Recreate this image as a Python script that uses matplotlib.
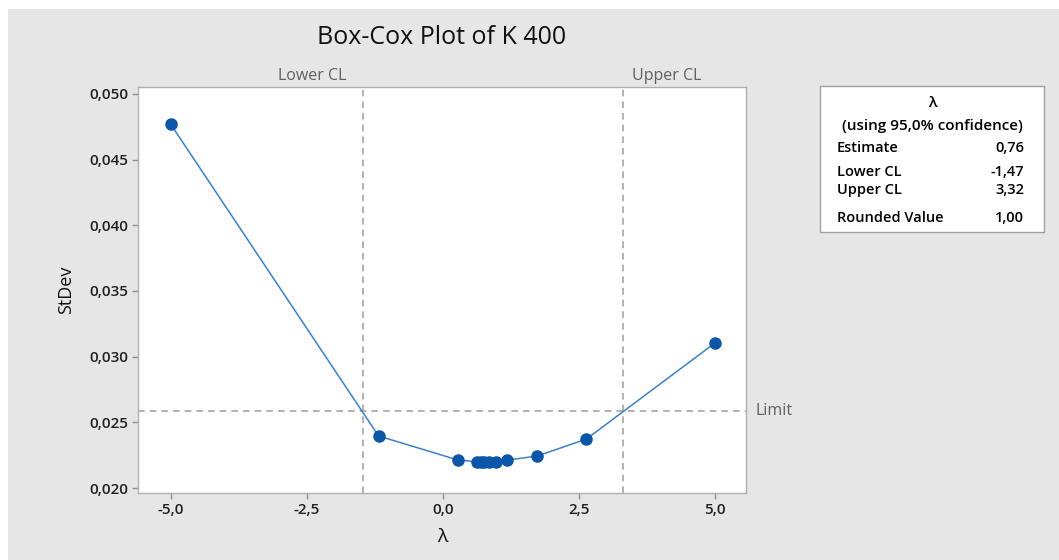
import matplotlib
matplotlib.use("Agg")
import matplotlib.pyplot as plt
from matplotlib.patches import Rectangle
from matplotlib.ticker import FuncFormatter

plt.rcParams['font.family'] = ['Open Sans', 'DejaVu Sans']

# data (golden-section search points of Box-Cox)
lambdas = [-5.0, -1.18, 0.28, 0.62, 0.70, 0.76, 0.84, 0.97, 1.18, 1.74, 2.64, 5.0]
stdev = [0.0477, 0.02396, 0.02213, 0.02200, 0.02198, 0.02197, 0.02198, 0.02201, 0.02212, 0.02244, 0.02373, 0.03104]
lower_cl = -1.47
upper_cl = 3.32
limit = 0.02585
xticks = [-5.0, -2.5, 0.0, 2.5, 5.0]
yticks = [0.020, 0.025, 0.030, 0.035, 0.040, 0.045, 0.050]
table_rows = [("Estimate", "0,76"), ("Lower CL", "-1,47"), ("Upper CL", "3,32"), ("Rounded Value", "1,00")]

W, H = 1059, 560
fig = plt.figure(figsize=(W / 100, H / 100), dpi=100, facecolor='white')
fig.patches.append(Rectangle((8 / W, 0), 1 - 8 / W, 1 - 9 / H, transform=fig.transFigure,
                             facecolor='#e6e6e6', edgecolor='none', zorder=-10))

ax = fig.add_axes([138 / W, 1 - 493 / H, (746.5 - 138) / W, (493 - 87) / H])
ax.set_facecolor('white')
ax.set_xlim(-5.6, 5.58)
ax.set_ylim(0.01962, 0.05053)

dash_col = '#a6a6a6'
ax.axvline(lower_cl, color=dash_col, ls=(0, (4, 3)), lw=1.2, zorder=1)
ax.axvline(upper_cl, color=dash_col, ls=(0, (4, 3)), lw=1.2, zorder=1)
ax.axhline(limit, color=dash_col, ls=(0, (4, 3)), lw=1.2, zorder=1)

ax.plot(lambdas, stdev, color='#3d7fcc', lw=1.1, zorder=2)
ax.plot(lambdas, stdev, ls='none', marker='o', ms=8, color='#0a56a8',
        markeredgecolor='#0a56a8', zorder=3)

ax.set_xticks(xticks)
ax.set_yticks(yticks)
ax.xaxis.set_major_formatter(FuncFormatter(lambda v, p: f"{v:.1f}".replace('.', ',')))
ax.yaxis.set_major_formatter(FuncFormatter(lambda v, p: f"{v:.3f}".replace('.', ',')))
ax.tick_params(axis='both', labelsize=11, color='#909090', length=4, width=1, labelcolor='#222222', pad=3)
for lab in ax.get_xticklabels() + ax.get_yticklabels():
    lab.set_fontweight('semibold')
for s in ax.spines.values():
    s.set_color('#b0b0b0')
    s.set_linewidth(1.0)

ax.set_xlabel('λ', fontsize=14, labelpad=8, color='#111111')
ax.set_ylabel('StDev', fontsize=13, labelpad=10, color='#111111')

ax.text(lower_cl - 0.3, 1.008, 'Lower CL', transform=ax.get_xaxis_transform(), ha='right', va='bottom',
        fontsize=11.5, color='#606060')
ax.text(upper_cl + 0.15, 1.008, 'Upper CL', transform=ax.get_xaxis_transform(), ha='left', va='bottom',
        fontsize=11.5, color='#606060')
ax.text(1.015, limit, 'Limit', transform=ax.get_yaxis_transform(), ha='left', va='center',
        fontsize=11.5, color='#606060')

fig.text(442 / W, 1 - 38 / H, 'Box-Cox Plot of K 400', ha='center', va='center', fontsize=18,
         fontweight='medium', color='#111111')

# legend table box
bx0, by0, bx1, by1 = 820, 86, 1044, 232
fig.patches.append(Rectangle((bx0 / W, 1 - by1 / H), (bx1 - bx0) / W, (by1 - by0) / H,
                             transform=fig.transFigure, facecolor='white', edgecolor='#a0a0a0', lw=1))
cx = (bx0 + bx1) / 2
fig.text(cx / W, 1 - 103 / H, 'λ', ha='center', va='center', fontsize=11, fontweight='semibold')
fig.text(cx / W, 1 - 126 / H, '(using 95,0% confidence)', ha='center', va='center', fontsize=11,
         fontweight='semibold')
row_y = [148, 172, 190, 218]
for (lab, val), yy in zip(table_rows, row_y):
    fig.text(837 / W, 1 - yy / H, lab, ha='left', va='center', fontsize=10.5, fontweight='semibold')
    fig.text(1024 / W, 1 - yy / H, val, ha='right', va='center', fontsize=10.5, fontweight='semibold')

fig.savefig('out.png', dpi=100, facecolor=fig.get_facecolor())
